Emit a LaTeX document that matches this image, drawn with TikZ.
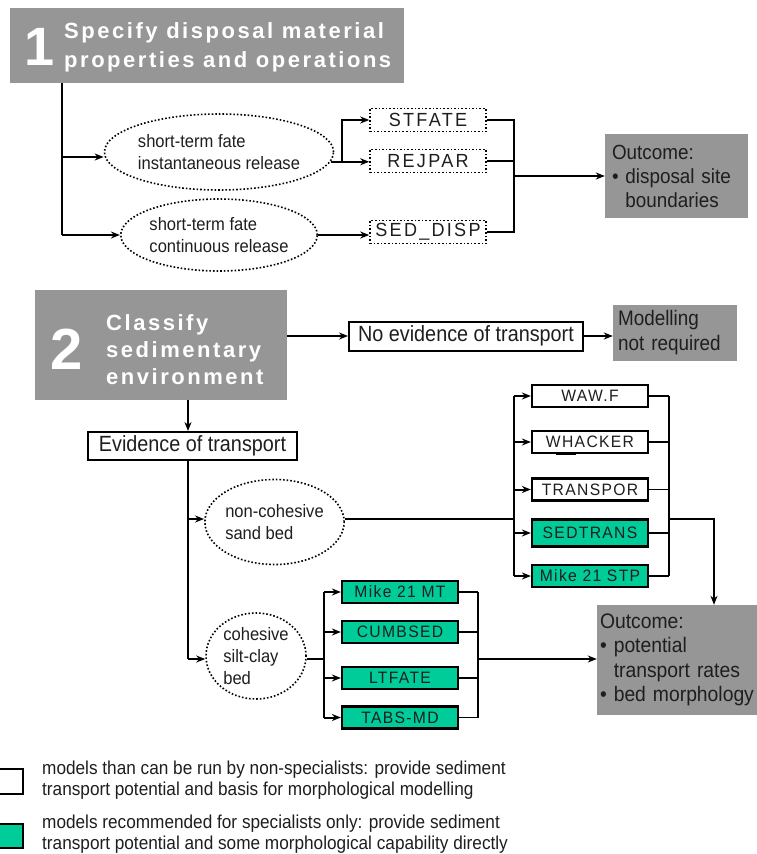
\documentclass[tikz,border=0pt]{standalone}
\usepackage{fontspec}
\setmainfont{Liberation Sans}
\newfontfamily\nar[FakeStretch=0.92]{Liberation Sans}
\newfontfamily\narb[FakeStretch=0.9]{Liberation Sans}
\newfontfamily\ttl[LetterSpace=11.5]{Liberation Sans}
\newfontfamily\modf[LetterSpace=8,FakeStretch=0.95]{Liberation Sans}
\newfontfamily\modt[LetterSpace=12,FakeStretch=0.95]{Liberation Sans}
\usetikzlibrary{shapes.geometric,arrows.meta}
\definecolor{boxgray}{RGB}{150,150,150}
\definecolor{modgreen}{RGB}{0,204,153}
\definecolor{txt}{RGB}{30,30,30}
\tikzset{
  graybox/.style={fill=boxgray,draw=none,inner sep=0pt},
  plainbox/.style={draw=black,line width=2pt,fill=white,inner sep=0pt,text=txt},
  dotbox/.style={draw=black,dotted,line width=1.6pt,inner sep=0pt,minimum width=116pt,minimum height=23pt,font=\modt\fontsize{19}{20}\selectfont,text=txt},
  modbox/.style={draw=black,line width=2.2pt,fill=white,inner sep=0pt,minimum width=116pt,minimum height=22pt,font=\modf\fontsize{16.5}{18}\selectfont,text=txt},
  greenbox/.style={modbox,fill=modgreen},
  oval/.style={ellipse,draw=black,dotted,line width=1.6pt,inner sep=0pt,align=left,font=\nar\fontsize{18}{22}\selectfont,text=txt},
  outbox/.style={graybox,align=left,font=\nar\fontsize{20.5}{24}\selectfont,text=txt},
  conn/.style={line width=2pt},
  thinconn/.style={line width=1.3pt},
  arr/.style={conn,-{Stealth[length=9pt,width=7pt]}},
  thinarr/.style={thinconn,-{Stealth[length=9pt,width=7pt]}},
  bignum/.style={text=white,font=\bfseries\fontsize{54}{54}\selectfont,inner sep=0pt},
  titletext/.style={text=white,align=left,inner sep=0pt},
  legtext/.style={align=left,inner sep=0pt,font=\nar\fontsize{18.7}{21}\selectfont,text=txt}
}
\begin{document}
\begin{tikzpicture}[x=1pt,y=-1pt]
\useasboundingbox (0,0) rectangle (757,854);

% ---- Stage 1
\node[graybox,minimum width=394pt,minimum height=75pt] (b1) at (207,45.5) {};
\node[bignum] (n1) at (40,47) {1};
\node[titletext,anchor=west,font=\ttl\bfseries\fontsize{22}{29}\selectfont] (t1) at (64,47) {Specify disposal material\\properties and operations};

\node[oval,minimum width=208pt,minimum height=76pt] (e1) at (219,152) {short-term fate\\instantaneous release};
\node[oval,minimum width=188pt,minimum height=72pt] (e2) at (219,235) {short-term fate\\continuous release};

\node[dotbox] (stf) at (428,120) {STFATE};
\node[dotbox] (rej) at (428,161) {REJPAR};
\node[dotbox] (sed) at (428,232) {SED\_DISP};

\node[outbox,minimum width=143pt,minimum height=84pt,text width=129pt] (o1) at (676.5,176) {Outcome:\\\textbullet\ disposal site\\\phantom{\textbullet}\ boundaries};

\coordinate (tr1) at (62,157);
\coordinate (tr2) at (62,235);
\coordinate (br1) at (342,161);
\coordinate (m1) at (514,176);

\draw[conn] (b1.south -| tr1) -- (tr2);
\draw[arr] (tr1) -- (tr1 -| e1.west);
\draw[arr] (tr2) -- (e2.west);
\draw[arr] (e1.-5) -- (e1.-5 -| rej.west);
\draw[arr] (br1) |- (stf.west);
\draw[arr] (e2.east) -- (e2.east -| sed.west);
\draw[conn] (stf.east) -- (stf.east -| m1) -- (sed.east -| m1) -- (sed.east);
\draw[conn] (rej.east) -- (rej.east -| m1);
\draw[arr] (m1) -- (o1.west);

% ---- Stage 2
\node[graybox,minimum width=252pt,minimum height=110pt] (b2) at (161,345) {};
\node[bignum,font=\bfseries\fontsize{58}{58}\selectfont] (n2) at (67,349) {2};
\node[titletext,anchor=west,font=\ttl\bfseries\fontsize{22}{27}\selectfont] (t2) at (106,350) {Classify\\sedimentary\\environment};

\node[plainbox,minimum width=234pt,minimum height=29pt,font=\narb\fontsize{22}{24}\selectfont] (no) at (466,336) {No evidence of transport};
\node[graybox,minimum width=124pt,minimum height=56pt,text width=114pt,align=left,font=\narb\fontsize{21}{25}\selectfont,text=txt] (mnr) at (675,333) {Modelling\\not required};
\draw[arr] (b2.east |- no) -- (no.west);
\draw[arr] (no.east) -- (no.east -| mnr.west);

\node[plainbox,minimum width=209pt,minimum height=28pt,font=\narb\fontsize{22}{24}\selectfont] (ev) at (192.5,446) {Evidence of transport};
\coordinate (tA) at (188,519);
\coordinate (tB) at (188,659);
\draw[arr] (b2.south -| tA) -- (ev.north -| tA);
\draw[conn] (ev.south -| tA) -- (tB);

\node[oval,minimum width=137pt,minimum height=85pt] (nc) at (274.5,522) {non-cohesive\\sand bed};
\node[oval,minimum width=100pt,minimum height=86pt] (co) at (256,656) {cohesive\\silt-clay\\bed};
\draw[arr] (tA) -- (tA -| nc.west);
\draw[arr] (tB) -- (tB -| co.west);

% non-cohesive models
\node[modbox] (waw) at (590,396) {WAW.F};
\node[modbox] (wha) at (590,442) {WHACKER};
\node[modbox] (tra) at (590,489.5) {TRANSPOR};
\node[greenbox,minimum height=27pt] (sdt) at (590,533) {SEDTRANS};
\node[greenbox] (mst) at (590,576) {Mike 21 STP};
\draw[line width=2pt] (556,454) -- (576,454);

\coordinate (v1) at (514,519);
\coordinate (v2) at (669,519);
\coordinate (dn) at (714,519);
\draw[conn] (nc.east |- v1) -- (v1);
\draw[thinconn] (v1 |- waw) -- (v1 |- mst);
\foreach \b in {waw,wha,tra,sdt,mst} \draw[arr] (v1 |- \b) -- (\b.west);
\foreach \b in {waw,wha,tra,sdt,mst} \draw[thinconn] (\b.east) -- (\b.east -| v2);
\draw[thinconn] (v2 |- waw) -- (v2 |- mst);

\node[outbox,minimum width=160pt,minimum height=110pt,text width=154pt,font=\nar\fontsize{21}{24.5}\selectfont] (o2) at (677,660) {Outcome:\\\mbox{\textbullet\ potential}\\\mbox{\phantom{\textbullet}\ transport rates}\\\mbox{\textbullet\ bed morphology}};
\draw[thinarr] (v2) -- (dn) -- (o2.north -| dn);

% cohesive models
\node[greenbox] (m21) at (400,592) {Mike 21 MT};
\node[greenbox] (cum) at (400,632) {CUMBSED};
\node[greenbox] (ltf) at (400,678) {LTFATE};
\node[greenbox] (tab) at (400,717.5) {TABS-MD};
\coordinate (v3) at (324,659);
\coordinate (v4) at (478,659);
\draw[conn] (co.east |- v3) -- (v3);
\draw[conn] (v3 |- m21) -- (v3 |- tab);
\foreach \b in {m21,cum,ltf,tab} \draw[arr] (v3 |- \b) -- (\b.west);
\foreach \b in {m21,cum,ltf,tab} \draw[thinconn] (\b.east) -- (\b.east -| v4);
\draw[thinconn] (v4 |- m21) -- (v4 |- tab);
\draw[thinarr] (v4) -- (v4 -| o2.west);

% ---- Legend
\node[draw=black,line width=2pt,fill=white,minimum width=30pt,minimum height=25pt,inner sep=0pt] (lw) at (8,781) {};
\node[draw=black,line width=2pt,fill=modgreen,minimum width=30pt,minimum height=24pt,inner sep=0pt] (lg) at (8,836) {};
\node[legtext,anchor=west] (l1) at (42,780) {models than can be run by non-specialists: provide sediment\\transport potential and basis for morphological modelling};
\node[legtext,anchor=west] (l2) at (42,834) {models recommended for specialists only: provide sediment\\transport potential and some morphological capability directly};
\end{tikzpicture}
\end{document}
